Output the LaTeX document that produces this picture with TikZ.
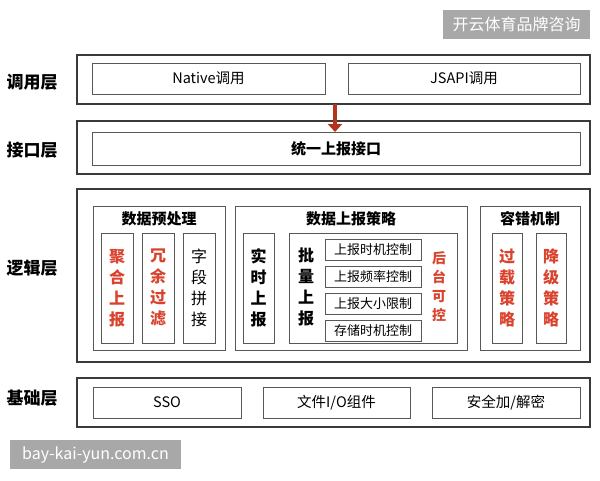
\documentclass[tikz,border=0pt]{standalone}
\usepackage{fontspec}
\setmainfont{Noto Sans CJK SC}
\usetikzlibrary{arrows.meta}
\definecolor{redtxt}{HTML}{D9432E}
\definecolor{arrowred}{HTML}{B23420}
\definecolor{wmgray}{HTML}{A8A8A8}
\definecolor{linegray}{HTML}{3A3A3A}
\tikzset{
  outer/.style={draw=linegray, line width=1.1pt},
  inbox/.style={draw=linegray!85, line width=0.8pt},
  layerlabel/.style={font=\fontsize{17}{19}\selectfont\bfseries, anchor=center},
  boxtext/.style={font=\fontsize{14.5}{16}\selectfont},
  titletext/.style={font=\fontsize{15}{17}\selectfont\bfseries},
  vtext/.style={font=\fontsize{16}{21}\selectfont\bfseries, align=center},
  vtextplain/.style={font=\fontsize{16}{21}\selectfont, align=center},
  smalltext/.style={font=\fontsize{13}{15}\selectfont},
  wm/.style={fill=wmgray, text=white, font=\fontsize{16}{18}\selectfont, inner sep=0pt}
}
\begin{document}
\begin{tikzpicture}[x=1pt,y=-1pt]
\useasboundingbox (0,0) rectangle (600,480);
% watermarks
\node[wm, minimum width=147pt, minimum height=29pt] (wm1) at (516.5,24.5) {开云体育品牌咨询};
\node[wm, minimum width=171pt, minimum height=29pt] (wm2) at (95.5,454.5) {bay-kai-yun.com.cn};
% layer labels
\node[layerlabel] (l1) at (32,82) {调用层};
\node[layerlabel] (l2) at (32,150) {接口层};
\node[layerlabel] (l3) at (32,268) {逻辑层};
\node[layerlabel] (l4) at (32,398) {基础层};
% layer 1
\draw[outer] (77,55) rectangle (590,104);
\draw[inbox] (92,63) rectangle (325,94); \node[boxtext] (native) at (208.5,78.5) {Native调用};
\draw[inbox] (348,63) rectangle (580,94); \node[boxtext] (jsapi) at (464,78.5) {JSAPI调用};
% layer 2
\draw[outer] (77,121) rectangle (590,174);
\draw[inbox] (92,132) rectangle (580,165); \node[boxtext, font=\fontsize{15}{17}\selectfont\bfseries] (unified) at (336,148.5) {统一上报接口};
% arrow
\coordinate (a1) at (335,104);
\coordinate (a2) at (335,132);
\draw[arrowred, line width=4pt, -{Triangle[length=8pt,width=14pt]}] (a1) -- (a2);
% layer 3
\draw[outer] (77,189) rectangle (590,362);
% preprocessing
\draw[inbox] (93,206) rectangle (225,350);
\node[titletext] (t1) at (159,219) {数据预处理};
\draw[inbox] (101,233) rectangle (133,343); \node[vtext, text=redtxt] (p1) at (117,288) {聚\\合\\上\\报};
\draw[inbox] (142,233) rectangle (174,343); \node[vtext, text=redtxt] (p2) at (158,288) {冗\\余\\过\\滤};
\draw[inbox] (183,233) rectangle (215,343); \node[vtextplain] (p3) at (199,288) {字\\段\\拼\\接};
% strategy
\draw[inbox] (235,206) rectangle (467,350);
\node[titletext] (t2) at (351,219) {数据上报策略};
\draw[inbox] (243,233) rectangle (274,343); \node[vtext] (s1) at (258.5,288) {实\\时\\上\\报};
\draw[inbox] (289,233) rectangle (457,343); \node[vtext] (s2) at (306,287) {批\\量\\上\\报};
\draw[inbox] (325,239) rectangle (421,260); \node[smalltext] (c1) at (373,249.5) {上报时机控制};
\draw[inbox] (325,266) rectangle (421,287); \node[smalltext] (c2) at (373,276.5) {上报频率控制};
\draw[inbox] (325,293) rectangle (421,314); \node[smalltext] (c3) at (373,303.5) {上报大小限制};
\draw[inbox] (325,320) rectangle (421,341); \node[smalltext] (c4) at (373,330.5) {存储时机控制};
\node[vtext, text=redtxt, font=\fontsize{14}{19}\selectfont\bfseries] (s3) at (439,287) {后\\台\\可\\控};
% fault tolerance
\draw[inbox] (480,206) rectangle (580,350);
\node[titletext] (t3) at (530,219) {容错机制};
\draw[inbox] (492,233) rectangle (522,343); \node[vtext, text=redtxt] (f1) at (507,288) {过\\载\\策\\略};
\draw[inbox] (536,233) rectangle (566,343); \node[vtext, text=redtxt] (f2) at (551,288) {降\\级\\策\\略};
% layer 4
\draw[outer] (77,378) rectangle (590,427);
\draw[inbox] (93,387) rectangle (241,418); \node[boxtext] (sso) at (167,402.5) {SSO};
\draw[inbox] (263,387) rectangle (410,418); \node[boxtext] (fio) at (336.5,402.5) {文件I/O组件};
\draw[inbox] (432,387) rectangle (580,418); \node[boxtext] (sec) at (506,402.5) {安全加/解密};
\end{tikzpicture}
\end{document}
